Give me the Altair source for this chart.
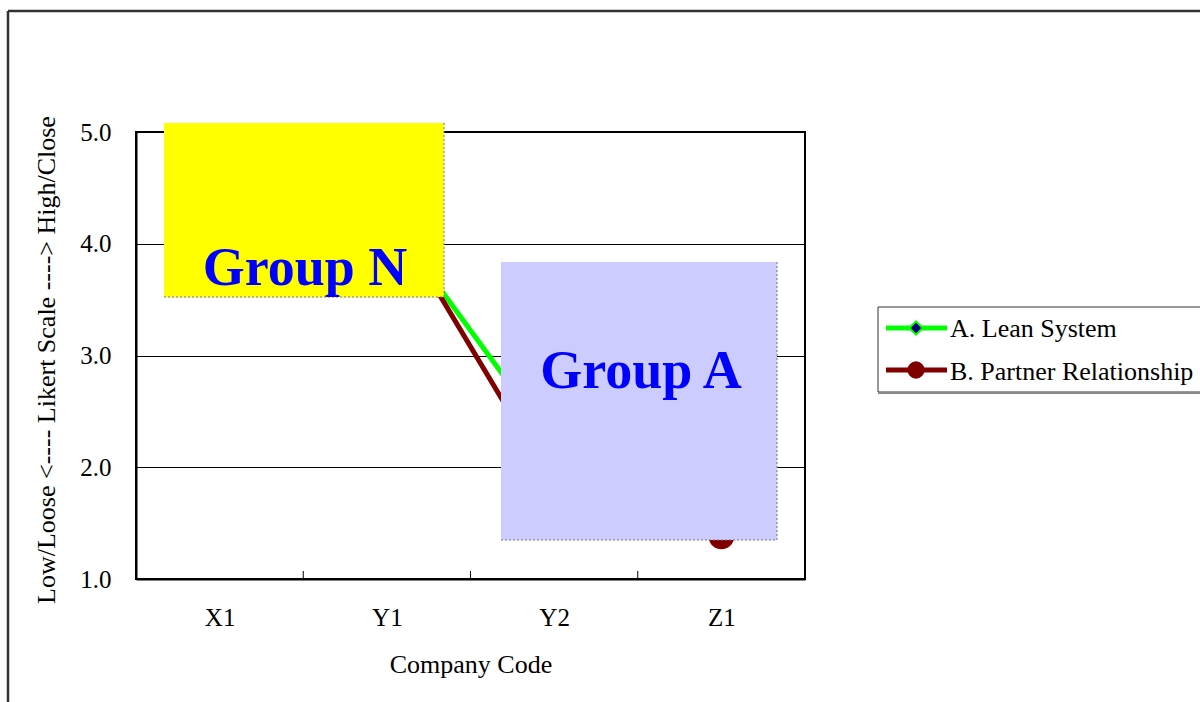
import altair as alt
import pandas as pd

# Survey scores per company (Likert scale 1-5)
companies = ["X1", "Y1", "Y2", "Z1"]
lean_system = [4.30, 4.25, 2.20, 1.90]
partner_relationship = [4.60, 4.33, 1.83, 1.38]
series_names = ["A. Lean System", "B. Partner Relationship"]
y_ticks = [1.0, 2.0, 3.0, 4.0, 5.0]
group_labels = ["Group N", "Group A"]

W, H = 669, 447          # plot area
L, T = 136, 132          # plot origin on the page
PAGE_W, PAGE_H = 1200, 702

SERIF = "Liberation Serif"
GREEN = "#00FF00"
MAROON = "#800000"
NAVY = "#000080"
LABEL_FS = 25
TITLE_FS = 26

rows = []
for name, vals in zip(series_names, [lean_system, partner_relationship]):
    for c, v in zip(companies, vals):
        rows.append({"company": c, "score": v, "series": name})
df = pd.DataFrame(rows)

x_enc = alt.X(
    "company:N",
    sort=companies,
    scale=alt.Scale(type="point", padding=0.5),
    axis=alt.Axis(
        title="Company Code",
        labelAngle=0,
        ticks=False,
        domainWidth=2,
        labelFontSize=LABEL_FS,
        labelBaseline="middle",
        labelPadding=38,
        titleFontSize=TITLE_FS,
        titleY=85,
        titleBaseline="middle",
    ),
)
y_enc = alt.Y(
    "score:Q",
    scale=alt.Scale(domain=[1, 5], nice=False, zero=False),
    axis=alt.Axis(
        values=y_ticks,
        format=".1f",
        grid=True,
        gridColor="black",
        gridWidth=1,
        ticks=False,
        domainWidth=2,
        labelFontSize=LABEL_FS,
        labelPadding=25,
        labelBaseline="middle",
        title="Low/Loose <---- Likert Scale ----> High/Close",
        titleFontSize=TITLE_FS,
        titleAngle=270,
        titleX=-90,
        titleY=H / 2 + 4,
        titleAlign="center",
        titleBaseline="middle",
    ),
)
color_enc = alt.Color(
    "series:N",
    scale=alt.Scale(domain=series_names, range=[GREEN, MAROON]),
    legend=None,
)

base = alt.Chart(df)
lines = base.mark_line(strokeWidth=5).encode(x=x_enc, y=y_enc, color=color_enc)

lean_pts = base.transform_filter(alt.datum.series == series_names[0]).mark_point(
    shape="diamond", filled=True, fill=NAVY, stroke=GREEN, strokeWidth=2, size=300, opacity=1
).encode(x=x_enc, y=y_enc)
partner_pts = base.transform_filter(alt.datum.series == series_names[1]).mark_point(
    shape="circle", filled=True, fill=MAROON, stroke=MAROON, size=560, opacity=1
).encode(x=x_enc, y=y_enc)

one = pd.DataFrame({"k": [0]})


def box(x0, x1, y0, y1, fill):
    rect = alt.Chart(one).mark_rect(fill=fill).encode(
        x=alt.value(x0), x2=alt.value(x1), y=alt.value(y0), y2=alt.value(y1)
    )
    right = alt.Chart(one).mark_rule(color="#777777", strokeWidth=1, strokeDash=[2, 2]).encode(
        x=alt.value(x1), y=alt.value(y0), y2=alt.value(y1)
    )
    bottom = alt.Chart(one).mark_rule(color="#777777", strokeWidth=1, strokeDash=[2, 2]).encode(
        x=alt.value(x0), x2=alt.value(x1), y=alt.value(y1)
    )
    return rect + right + bottom


def label(text, x, y, size, weight="normal", color="black", align="left", baseline="middle"):
    return alt.Chart(one).mark_text(
        text=text, font=SERIF, fontSize=size, fontWeight=weight, color=color,
        align=align, baseline=baseline,
    ).encode(x=alt.value(x), y=alt.value(y))


# Inward tick marks at the category boundaries
ticks = alt.layer(*[
    alt.Chart(one).mark_rule(color="black", strokeWidth=1).encode(
        x=alt.value(W * i / 4), y=alt.value(H - 8), y2=alt.value(H)
    )
    for i in range(1, 4)
])

group_n = box(28, 308, -9, 165, "#FFFF00") + label(
    group_labels[0], 169, 153, 54, "bold", "#0000FF", "center", "alphabetic")
group_a = box(365, 641, 130, 408, "#CCCCFF") + label(
    group_labels[1], 505, 256, 54, "bold", "#0000FF", "center", "alphabetic")

# Legend panel
lx, ly0, ly1 = 742, 175, 260
legend_box = alt.Chart(one).mark_rect(fill="white", stroke="#333333", strokeWidth=1).encode(
    x=alt.value(lx), x2=alt.value(PAGE_W - L + 20), y=alt.value(ly0), y2=alt.value(ly1)
)
legend_shadow = alt.Chart(one).mark_rule(color="#888888", strokeWidth=2).encode(
    x=alt.value(lx), x2=alt.value(PAGE_W - L + 20), y=alt.value(ly1 + 1)
)
row_a, row_b = 196, 238
leg_line_a = alt.Chart(one).mark_rule(color=GREEN, strokeWidth=5).encode(
    x=alt.value(750), x2=alt.value(811), y=alt.value(row_a)
)
leg_line_b = alt.Chart(one).mark_rule(color=MAROON, strokeWidth=5).encode(
    x=alt.value(750), x2=alt.value(811), y=alt.value(row_b)
)
leg_pt_a = alt.Chart(one).mark_point(
    shape="diamond", filled=True, fill=NAVY, stroke=GREEN, strokeWidth=2, size=180, opacity=1
).encode(x=alt.value(780), y=alt.value(row_a))
leg_pt_b = alt.Chart(one).mark_point(
    shape="circle", filled=True, fill=MAROON, size=300, opacity=1
).encode(x=alt.value(780), y=alt.value(row_b))
leg_txt_a = label(series_names[0], 814, row_a + 1, 26)
leg_txt_b = label(series_names[1], 814, row_b + 2, 26)

# Outer frame around the chart object
frame_top = alt.Chart(one).mark_rule(color="#333333", strokeWidth=2.5).encode(
    x=alt.value(8 - L), x2=alt.value(PAGE_W - L + 10), y=alt.value(11 - T)
)
frame_left = alt.Chart(one).mark_rule(color="#333333", strokeWidth=2.5).encode(
    x=alt.value(8 - L), y=alt.value(11 - T), y2=alt.value(PAGE_H - T + 10)
)

chart = alt.layer(
    lines, lean_pts, partner_pts, ticks,
    group_n, group_a,
    legend_box, legend_shadow, leg_line_a, leg_line_b, leg_pt_a, leg_pt_b, leg_txt_a, leg_txt_b,
    frame_top, frame_left,
).properties(
    width=W,
    height=H,
    autosize=alt.AutoSizeParams(type="none"),
    padding={"left": L, "top": T, "right": PAGE_W - L - W, "bottom": PAGE_H - T - H},
    background="white",
).configure_view(
    stroke="black", strokeWidth=2
).configure_axis(
    labelFont=SERIF, titleFont=SERIF, labelColor="black", titleColor="black",
    domainColor="black", titleFontWeight="normal",
)

chart.save("out.html", embed_options={"renderer": "svg", "actions": False})
